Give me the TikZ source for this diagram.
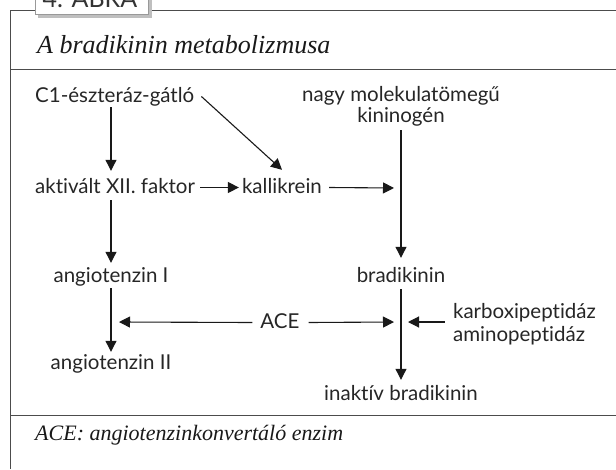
\documentclass[tikz,border=0pt]{standalone}
\usepackage{fontspec}
\setmainfont{Lato}[RawFeature=-liga]
\newfontfamily\capfont{Liberation Serif}
\usetikzlibrary{arrows.meta}
\tikzset{
  lbl/.style={inner sep=0pt, text height=15pt, text depth=4pt, font=\fontsize{20.5}{24}\selectfont, text=black!85},
  arr/.style={-{Triangle[length=11pt,width=11pt]}, line width=1.1pt, black!90},
  frame/.style={line width=0.9pt, black!70},
}
\begin{document}
\begin{tikzpicture}[x=1pt,y=-1pt]
\useasboundingbox (0,0) rectangle (616,469);
% frame
\draw[frame] (35,10) -- (10,10) -- (10,469);
\draw[frame] (150,10) -- (616,10);
\draw[frame] (10,69) -- (616,69);
\draw[frame] (10,415) -- (616,415);
% tab
\fill[black!25] (38,-5) rectangle (152,18);
\fill[white] (35,-5) rectangle (148,14);
\draw[line width=0.5pt, black!40] (35,-5) -- (35,14) -- (148,14) -- (148,-5);
\node[inner sep=0pt, anchor=base, font=\fontsize{25}{28}\selectfont, text=black!80] (tab) at (90,7) {4. ÁBRA};
% title and caption
\node[inner sep=0pt, anchor=base west, text=black!90, font=\capfont\itshape\fontsize{26}{30}\selectfont] (title) at (37,53) {A bradikinin metabolizmusa};
\node[inner sep=0pt, anchor=base west, text=black!90, font=\capfont\itshape\fontsize{22}{26}\selectfont] (caption) at (35,440) {ACE: angiotenzinkonvertáló enzim};
% nodes
\node[lbl, anchor=base west] (c1) at (35,102) {C1-észteráz-gátló};
\node[lbl, anchor=base] (hmw) at (401,101) {nagy molekulatömegű};
\node[lbl, anchor=base] (kin) at (401,122) {kininogén};
\node[lbl, anchor=base west] (akt) at (35,193) {aktivált XII. faktor};
\node[lbl, anchor=base] (kal) at (282,193) {kallikrein};
\node[lbl, anchor=base] (a1) at (111,282) {angiotenzin I};
\node[lbl, anchor=base] (bk) at (401,282) {bradikinin};
\node[lbl, anchor=base] (ace) at (280,328) {ACE};
\node[lbl, anchor=base east] (karb) at (596,318) {karboxipeptidáz};
\node[lbl, anchor=base west] (amin) at (karb.base west |- 0,341) {aminopeptidáz};
\node[lbl, anchor=base] (a2) at (111,369) {angiotenzin II};
\node[lbl, anchor=base] (ibk) at (401,400) {inaktív bradikinin};
% junction coordinates
\coordinate (j1) at (401,188);
\coordinate (j2) at (401,322);
\coordinate (j3) at (111,322);
% connectors
\draw[arr] ([yshift=-1pt]c1.south -| a1.south) -- ([yshift=7pt]akt.north -| a1.south);
\draw[arr] ([xshift=7pt]c1.east) -- ([yshift=8pt]kal.north);
\draw[arr] ([xshift=5pt]akt.east) -- ([xshift=-3pt]kal.west);
\draw[arr] ([xshift=7pt]kal.east) -- ([xshift=-7pt]j1);
\draw[arr] ([yshift=-3pt]akt.south -| a1.north) -- ([yshift=4pt]a1.north);
\draw[arr] ([yshift=-4pt]kin.south) -- ([yshift=9pt]bk.north);
\draw[arr] ([yshift=-2pt]a1.south) -- ([yshift=2pt]a2.north);
\draw[arr] ([xshift=-8pt]ace.west) -- ([xshift=8pt]j3);
\draw[arr] ([xshift=9pt]ace.east) -- ([xshift=-7pt]j2);
\draw[arr] ([yshift=-3pt]bk.south) -- ([yshift=5pt]ibk.north);
\draw[arr] ([xshift=-8pt]karb.west |- j2) -- ([xshift=7pt]j2);
\end{tikzpicture}
\end{document}
